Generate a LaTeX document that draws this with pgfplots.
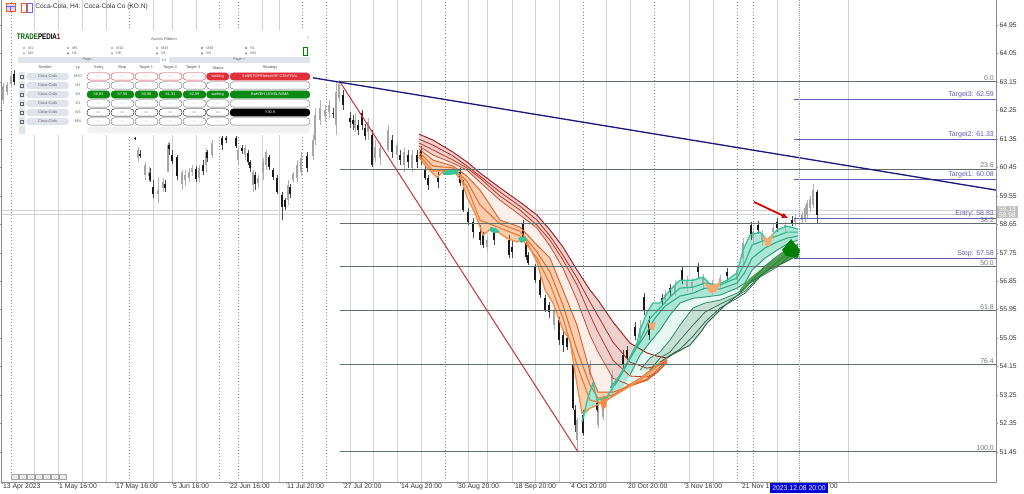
\documentclass[border=0pt]{standalone}
\usepackage{pgfplots}
\usepackage{pgfplotstable}
\usepackage{fontspec}
\setmainfont{Liberation Sans}
\pgfplotsset{compat=1.18}
\usetikzlibrary{arrows.meta}
\definecolor{lvl}{HTML}{5F6E66}
\definecolor{tgt}{HTML}{5C5CB8}
\definecolor{axg}{HTML}{8C8C8C}
\definecolor{tx}{HTML}{333333}
\definecolor{pbg}{HTML}{DFE3EC}
\definecolor{pred}{HTML}{E0303C}
\definecolor{pgreen}{HTML}{0A8A10}
\definecolor{trend}{HTML}{1C1C80}
\definecolor{redl}{HTML}{C8323C}
\definecolor{rA}{HTML}{9E1C1C}\definecolor{rB}{HTML}{B22A20}\definecolor{rC}{HTML}{C23A22}\definecolor{rD}{HTML}{D04C26}
\definecolor{rE}{HTML}{DC5E2B}\definecolor{rF}{HTML}{E66E30}\definecolor{rG}{HTML}{EF7C36}\definecolor{rH}{HTML}{F58A42}
\definecolor{gA}{HTML}{35C49A}\definecolor{gB}{HTML}{32B88E}\definecolor{gC}{HTML}{2FAA80}\definecolor{gD}{HTML}{2D9C72}
\definecolor{gE}{HTML}{2B8E64}\definecolor{gF}{HTML}{2A8058}\definecolor{gG}{HTML}{2B724E}\definecolor{gH}{HTML}{2D6444}
\pgfplotstableread{
x h l t b
3 63.11 62.45 63.02 62.58
7 63.15 62.74 63.05 62.83
11 63.46 62.96 63.34 63.08
138 61.09 60.62 61.00 60.74
145 60.62 60.05 60.52 60.21
149 60.46 59.98 60.30 60.17
158 60.14 59.32 59.73 59.60
163 60.11 59.67 59.98 59.79
168 61.25 60.30 61.15 60.30
182 60.36 59.73 60.30 59.92
185 60.36 59.86 60.21 60.05
189 60.43 59.98 60.30 60.11
192 60.52 60.17 60.43 60.30
199 60.52 59.98 60.43 60.11
206 61.06 60.30 60.93 60.52
212 61.31 60.74 61.22 60.84
238 61.12 60.49 61.00 60.68
245 61.15 60.68 61.06 60.84
253 60.36 59.67 60.30 59.89
258 60.21 59.79 60.11 59.95
263 60.74 60.05 60.62 60.30
266 61.00 60.36 60.93 60.52
288 60.05 59.26 59.89 59.41
293 60.30 59.95 60.24 60.05
297 60.68 59.98 60.52 60.11
301 60.93 60.17 60.74 60.30
313 61.47 60.68 61.31 60.81
315 62.32 61.15 62.10 61.31
320 62.58 61.79 62.32 61.94
325 62.42 61.88 62.26 62.07
329 62.58 62.01 62.42 62.20
336 63.15 61.47 62.83 61.79
339 63.21 62.51 63.08 62.64
355 62.17 61.56 61.94 61.69
368 62.01 61.31 61.88 61.56
375 61.31 60.62 61.09 60.74
380 61.22 60.52 61.06 60.74
388 61.79 60.93 61.63 61.00
397 61.31 60.68 61.15 60.84
404 61.06 60.30 60.93 60.52
412 61.00 60.30 60.84 60.43
487 58.28 57.77 58.15 57.93
554 56.06 55.30 55.93 55.46
577 52.52 51.47 52.46 51.82
590 54.35 53.72 54.19 53.88
598 52.93 52.20 52.77 52.30
603 53.09 52.46 52.93 52.55
612 54.04 53.25 53.88 53.40
640 55.62 54.92 55.37 55.05
665 56.57 56.12 56.41 56.25
675 56.88 56.38 56.73 56.50
687 57.01 56.50 56.88 56.63
692 56.95 56.50 56.82 56.63
703 57.07 56.57 56.95 56.73
712 56.88 56.41 56.73 56.57
720 57.04 56.63 56.95 56.79
737 57.36 56.57 57.20 56.88
743 58.21 57.36 58.05 57.58
753 58.53 58.02 58.40 58.21
762 58.47 57.96 58.31 58.15
773 58.66 58.21 58.53 58.40
785 58.72 58.40 58.62 58.53
795 58.97 58.59 58.85 58.72
802 59.03 58.66 58.94 58.78
805 59.26 58.72 59.16 58.85
807 59.41 58.85 59.32 58.94
810 59.54 59.03 59.45 59.16
813 59.92 59.16 59.73 59.26
}\grayc
\pgfplotstableread{
x h l t b
1 63.02 62.45 62.89 62.58
14 63.53 63.05 63.40 63.15
135 61.41 61.31 61.39 61.34
140 61.00 60.74 60.87 60.81
150 60.43 59.98 60.27 60.05
153 60.05 59.48 59.83 59.60
165 60.05 59.67 59.92 59.79
169 61.22 60.84 61.15 61.03
172 61.00 60.55 60.84 60.65
177 60.84 60.05 60.77 60.17
196 60.49 59.98 60.39 60.08
203 60.68 60.21 60.52 60.33
207 61.00 60.62 60.93 60.74
222 61.44 61.00 61.39 61.15
226 61.44 61.22 61.39 61.31
236 61.44 61.06 61.39 61.12
242 61.15 60.87 61.06 60.96
248 61.00 60.52 60.90 60.62
250 60.68 60.30 60.62 60.43
255 60.30 59.73 60.21 59.92
269 60.84 60.36 60.77 60.46
273 60.43 60.05 60.36 60.14
277 60.21 59.60 60.11 59.67
282 59.67 58.78 59.57 59.19
285 59.48 59.10 59.41 59.19
290 59.92 59.48 59.83 59.60
307 60.93 60.30 60.81 60.43
333 62.32 62.01 62.17 62.13
343 62.89 62.26 62.74 62.42
350 62.20 61.69 62.01 61.88
353 62.10 61.63 61.94 61.82
358 61.94 61.47 61.79 61.63
362 62.26 61.63 62.17 61.79
365 61.82 61.31 61.69 61.44
372 61.63 60.46 61.47 60.52
392 61.47 60.74 61.31 60.93
400 61.00 60.52 60.84 60.68
408 61.00 60.43 60.84 60.62
417 61.00 60.43 60.84 60.62
421 61.12 60.52 61.00 60.68
425 60.52 60.05 60.36 60.11
428 60.21 59.73 60.11 59.89
438 60.30 59.79 60.11 59.98
460 60.43 59.86 60.30 59.95
463 60.05 59.03 59.73 59.10
468 59.16 58.62 59.03 58.72
473 58.85 58.21 58.72 58.40
480 58.62 57.99 58.40 58.15
483 58.40 57.90 58.31 57.99
494 58.53 57.99 58.40 58.15
509 58.31 57.58 58.15 57.67
512 58.15 57.58 57.93 57.77
523 58.78 58.15 58.69 58.24
526 58.15 57.52 58.05 57.61
528 57.77 57.36 57.67 57.42
535 57.39 56.79 57.30 56.88
540 56.98 56.31 56.88 56.41
545 56.41 55.87 56.31 55.93
549 56.19 55.68 56.09 55.87
559 55.71 54.83 55.62 54.99
563 55.30 54.61 55.14 54.83
567 55.14 54.67 55.05 54.76
573 54.26 52.77 54.19 52.83
575 52.93 52.08 52.77 52.30
583 52.77 51.98 52.61 52.04
597 53.09 52.71 52.99 52.77
623 54.67 54.10 54.51 54.19
627 54.80 54.35 54.67 54.42
635 55.56 54.99 55.40 55.11
644 56.47 55.78 56.35 55.93
649 55.75 54.99 55.62 55.14
662 56.44 56.06 56.31 56.19
670 56.76 56.38 56.63 56.50
682 57.33 56.76 57.20 56.88
698 57.42 56.95 57.30 57.14
727 57.26 56.82 57.14 57.01
751 58.72 58.15 58.62 58.31
758 58.75 58.34 58.62 58.47
777 58.85 58.40 58.72 58.53
792 58.91 58.59 58.78 58.69
817 59.73 58.69 59.67 58.94
}\blackc
\newcommand{\fs}[1]{\fontsize{#1}{#1}\selectfont}
\newcommand{\cand}[5]{%
\addplot[draw=none,no markers,forget plot,error bars/.cd,y dir=minus,y explicit,error mark=none,
  error bar style={line width=#3,draw=#2,solid}] table[x=x,y=#4,y error minus expr=\thisrow{#4}-\thisrow{#5}] {#1};}
\begin{document}
\begin{tikzpicture}
\path[use as bounding box,fill=white] (0,0) rectangle (768pt,369.75pt);
\begin{axis}[
  at={(1.5pt,8.25pt)},anchor=south west,scale only axis,
  width=745.5pt,height=361.5pt,
  xmin=2,xmax=996,ymin=50.50,ymax=65.74,
  axis line style={draw=none},
  ytick={64.95,64.05,63.15,62.25,61.35,60.45,59.55,58.65,57.75,56.85,55.95,55.05,54.15,53.25,52.35,51.45},
  yticklabel pos=right,
  xtick={2,58,115,172,229,286,343,400,457,514,570,627,684,741,829},
  xticklabels={13 Apr 2023,1 May 16:00,17 May 16:00,5 Jun 16:00,22 Jun 16:00,11 Jul 20:00,27 Jul 20:00,14 Aug 20:00,30 Aug 20:00,18 Sep 20:00,4 Oct 20:00,20 Oct 20:00,3 Nov 16:00,21 Nov 1,00},
  xticklabel style={anchor=north west,font=\fs{5.15},text=tx,inner sep=0.6pt,yshift=1pt},
  yticklabel style={font=\fs{5.15},text=tx,inner sep=1pt},
  /pgf/number format/.cd,fixed,fixed zerofill,precision=2,assume math mode=true,
  /pgfplots/.cd,
  tick style={draw=axg,line width=0.3pt},
  major tick length=1.5pt,
  tick align=outside,
]
% vertical grid
\pgfplotsinvokeforeach{34,58,82,106,153,172,196,262,279,350,373,397,421,468,487,512,535,559,606,630,689,713,777,848}{
  \draw[color=black!18,line width=0.3pt] (axis cs:#1,50.5) -- (axis cs:#1,65.74);}
\pgfplotsinvokeforeach{11,129,219,238,302,326,445,583,654,737,753}{
  \draw[color=black!45,line width=0.35pt,dotted] (axis cs:#1,50.5) -- (axis cs:#1,65.74);}
% horizontal cursor lines
\addplot[forget plot,color=black!18,line width=0.3pt] coordinates {(2,59.10)(996,59.10)};
\addplot[forget plot,color=black!18,line width=0.3pt] coordinates {(2,58.97)(996,58.97)};
% ribbon fills: pale body
\addplot[forget plot,draw=none,fill=rE!10] coordinates {(419,61.50)(433,61.31)(453,60.93)(467,60.62)(480,60.27)(500,59.80)(520,59.35)(537,58.94)(550,58.47)(563,57.93)(577,57.20)(590,56.57)(598,56.25)(613,55.56)(630,54.89)(647,54.58)(657,54.48)(667,54.42)(653,54.04)(640,53.72)(620,53.34)(603,53.03)(590,52.83)(582,52.68)(578,53.40)(573,54.35)(570,54.99)(563,55.30)(553,56.16)(545,56.57)(537,57.45)(525,58.21)(517,58.09)(507,58.21)(492,58.53)(483,58.31)(475,59.00)(467,59.51)(460,60.21)(453,60.30)(443,60.30)(437,60.14)(427,60.43)(419,60.78)} -- cycle;
% slow red band
\addplot[forget plot,draw=none,fill=rB!22] coordinates {(419,61.50)(433,61.31)(453,60.93)(467,60.62)(480,60.27)(500,59.80)(520,59.35)(537,58.94)(550,58.47)(563,57.93)(577,57.20)(590,56.57)(598,56.25)(613,55.56)(630,54.89)(647,54.58)(657,54.48)(667,54.42)(667,54.29)(657,53.97)(647,53.72)(630,53.56)(613,53.78)(598,54.61)(590,55.14)(577,56.25)(563,57.26)(550,57.96)(537,58.53)(520,58.94)(500,59.41)(480,59.98)(467,60.36)(453,60.58)(433,60.84)(419,61.12)} -- cycle;
% fast orange band
\addplot[forget plot,draw=none,fill=rH!42] coordinates {(419,61.03)(433,60.68)(453,60.49)(467,60.17)(480,59.73)(500,58.78)(520,58.56)(537,57.99)(550,57.58)(563,56.57)(577,55.46)(590,53.97)(598,53.34)(613,53.34)(630,53.53)(647,53.72)(657,53.97)(667,54.29)(667,54.42)(653,54.04)(640,53.72)(620,53.34)(603,53.03)(590,52.83)(582,52.68)(578,53.40)(573,54.35)(570,54.99)(563,55.30)(553,56.16)(545,56.57)(537,57.45)(525,58.21)(517,58.09)(507,58.21)(492,58.53)(483,58.31)(475,59.00)(467,59.51)(460,60.21)(453,60.30)(443,60.30)(437,60.14)(427,60.43)(419,60.78)} -- cycle;
% green pale body
\addplot[forget plot,draw=none,fill=gA!12] coordinates {(582,52.40)(588,53.18)(593,53.63)(597,53.09)(607,53.18)(617,53.72)(627,54.26)(637,54.89)(640,55.30)(647,55.87)(653,56.16)(660,56.16)(670,56.57)(680,56.88)(693,56.88)(703,56.98)(713,56.66)(727,56.88)(737,57.11)(743,57.83)(750,58.31)(760,58.40)(767,58.15)(777,58.47)(787,58.59)(798,58.50)(798,57.67)(785,57.45)(770,57.23)(750,56.79)(740,56.47)(723,56.03)(707,55.52)(700,55.21)(690,54.83)(673,54.54)(667,54.42)(653,54.04)(640,53.72)(620,53.34)(603,53.03)(590,52.83)} -- cycle;
% fast teal band
\addplot[forget plot,draw=none,fill=gA!42] coordinates {(582,52.40)(588,53.18)(593,53.63)(597,53.09)(607,53.18)(617,53.72)(627,54.26)(637,54.89)(640,55.30)(647,55.87)(653,56.16)(660,56.16)(670,56.57)(680,56.88)(693,56.88)(703,56.98)(713,56.66)(727,56.88)(737,57.11)(743,57.83)(750,58.31)(760,58.40)(767,58.15)(777,58.47)(787,58.59)(798,58.50)(798,58.15)(787,58.02)(777,57.83)(765,57.58)(752,57.20)(745,56.79)(737,56.63)(720,56.41)(705,56.35)(693,56.31)(680,56.16)(670,55.78)(660,55.30)(650,54.92)(640,54.51)(630,53.88)(620,53.34)(603,53.03)(590,52.83)} -- cycle;
% slow dark band
\addplot[forget plot,draw=none,fill=gF!26] coordinates {(640,54.04)(650,54.42)(660,54.61)(670,54.99)(680,55.46)(693,56.00)(705,56.16)(720,56.25)(737,56.47)(745,56.63)(752,56.88)(765,57.33)(777,57.64)(787,57.86)(798,58.02)(798,57.67)(785,57.45)(770,57.23)(750,56.79)(740,56.47)(723,56.03)(707,55.52)(700,55.21)(690,54.83)(673,54.54)(667,54.42)(653,54.04)} -- cycle;
% candles
\cand{\grayc}{black!30}{0.35pt}{h}{l}
\cand{\grayc}{black!35}{1.6pt}{t}{b}
\cand{\blackc}{black!70}{0.35pt}{h}{l}
\cand{\blackc}{black!90}{1.6pt}{t}{b}
% red ribbon
\addplot[forget plot,color=rA,line width=0.7pt] coordinates {(419,61.50)(433,61.31)(453,60.93)(467,60.62)(480,60.27)(500,59.80)(520,59.35)(537,58.94)(550,58.47)(563,57.93)(577,57.20)(590,56.57)(598,56.25)(613,55.56)(630,54.89)(647,54.58)(657,54.48)(667,54.42)};
\addplot[forget plot,color=rB,line width=0.6pt] coordinates {(419,61.34)(433,61.15)(453,60.81)(467,60.49)(480,60.17)(500,59.67)(520,59.22)(537,58.78)(550,58.28)(563,57.67)(577,56.95)(590,56.19)(598,55.75)(613,54.92)(630,54.29)(647,54.10)(657,54.16)(667,54.35)};
\addplot[forget plot,color=rC,line width=0.6pt] coordinates {(419,61.22)(433,61.00)(453,60.68)(467,60.43)(480,60.11)(500,59.54)(520,59.10)(537,58.62)(550,58.15)(563,57.52)(577,56.73)(590,55.78)(598,55.24)(613,54.35)(630,53.85)(647,53.82)(657,53.97)(667,54.29)};
\addplot[forget plot,color=rD,line width=0.6pt] coordinates {(419,61.12)(433,60.84)(453,60.58)(467,60.36)(480,59.98)(500,59.41)(520,58.94)(537,58.53)(550,57.96)(563,57.26)(577,56.25)(590,55.14)(598,54.61)(613,53.78)(630,53.56)(647,53.72)(657,53.97)(667,54.29)};
\addplot[forget plot,color=rE,line width=0.7pt] coordinates {(419,61.03)(433,60.68)(453,60.49)(467,60.17)(480,59.73)(500,58.78)(520,58.56)(537,57.99)(550,57.58)(563,56.57)(577,55.46)(590,53.97)(598,53.34)(613,53.34)(630,53.53)(647,53.72)(657,53.97)(667,54.29)};
\addplot[forget plot,color=rF,line width=0.8pt] coordinates {(419,60.93)(433,60.49)(453,60.43)(467,60.01)(480,59.26)(500,58.66)(520,58.43)(537,57.77)(550,57.14)(563,56.09)(577,54.67)(590,53.56)(598,53.15)(613,53.25)(630,53.56)(647,53.75)(657,54.04)(667,54.35)};
\addplot[forget plot,color=rG,line width=0.9pt] coordinates {(419,60.84)(433,60.33)(453,60.36)(467,59.83)(480,58.78)(500,58.53)(520,58.28)(537,57.58)(550,56.76)(563,55.68)(577,54.19)(590,53.09)(603,52.99)(620,53.40)(640,53.78)(653,54.10)(667,54.42)};
\addplot[forget plot,color=rH,line width=1pt] coordinates {(419,60.78)(427,60.43)(437,60.14)(443,60.30)(453,60.30)(460,60.21)(467,59.51)(475,59.00)(483,58.31)(492,58.53)(507,58.21)(517,58.09)(525,58.21)(537,57.45)(545,56.57)(553,56.16)(563,55.30)(570,54.99)(573,54.35)(578,53.40)(582,52.68)(590,52.83)(603,53.03)(620,53.34)(640,53.72)(653,54.04)(667,54.42)};
% short teal and orange patches
\addplot[forget plot,draw=none,fill=gA] coordinates {(443,60.30)(450,60.39)(458,60.36)(458,60.24)(450,60.21)(443,60.21)} -- cycle;
\addplot[forget plot,draw=none,fill=gA] coordinates {(490,58.56)(496,58.53)(500,58.40)(495,58.37)(490,58.43)} -- cycle;
\addplot[forget plot,draw=none,fill=gA] coordinates {(518,58.21)(525,58.28)(527,58.15)(521,58.05)} -- cycle;
\addplot[forget plot,draw=none,fill=rH] coordinates {(600,53.18)(608,53.22)(606,52.87)(602,52.77)} -- cycle;
% green ribbon
\addplot[forget plot,color=gH,line width=0.7pt] coordinates {(667,54.42)(673,54.54)(690,54.83)(700,55.21)(707,55.52)(723,56.03)(740,56.47)(750,56.79)(770,57.23)(785,57.45)(798,57.67)};
\addplot[forget plot,color=gG,line width=0.6pt] coordinates {(660,54.29)(670,54.51)(680,54.70)(693,55.11)(705,55.56)(720,56.00)(737,56.31)(745,56.47)(760,56.98)(777,57.30)(787,57.58)(798,57.83)};
\addplot[forget plot,color=gF,line width=0.6pt] coordinates {(650,54.04)(660,54.42)(670,54.61)(680,54.99)(693,55.46)(705,55.87)(720,56.12)(737,56.38)(745,56.54)(752,56.76)(765,57.14)(777,57.45)(787,57.71)(798,57.90)};
\addplot[forget plot,color=gE,line width=0.6pt] coordinates {(640,54.04)(650,54.42)(660,54.61)(670,54.99)(680,55.46)(693,56.00)(705,56.16)(720,56.25)(737,56.47)(745,56.63)(752,56.88)(765,57.33)(777,57.64)(787,57.86)(798,58.02)};
\addplot[forget plot,color=gD,line width=0.7pt] coordinates {(630,53.88)(640,54.51)(650,54.92)(660,55.30)(670,55.78)(680,56.16)(693,56.31)(705,56.35)(720,56.41)(737,56.63)(745,56.79)(752,57.20)(765,57.58)(777,57.83)(787,58.02)(798,58.15)};
\addplot[forget plot,color=gC,line width=0.8pt] coordinates {(615,53.56)(625,54.10)(635,54.67)(645,55.14)(655,55.68)(665,56.06)(680,56.38)(693,56.47)(705,56.63)(720,56.60)(737,56.79)(745,57.14)(752,57.58)(765,57.90)(777,58.09)(787,58.21)(798,58.28)};
\addplot[forget plot,color=gB,line width=0.9pt] coordinates {(610,53.47)(620,53.88)(630,54.42)(640,54.99)(650,55.68)(660,56.00)(670,56.35)(680,56.63)(693,56.66)(705,56.79)(720,56.73)(737,56.95)(745,57.45)(752,57.99)(765,58.15)(777,58.28)(787,58.40)(798,58.40)};
\addplot[forget plot,color=gA,line width=1pt] coordinates {(582,52.40)(588,53.18)(593,53.63)(597,53.09)(607,53.18)(617,53.72)(627,54.26)(637,54.89)(640,55.30)(647,55.87)(653,56.16)(660,56.16)(670,56.57)(680,56.88)(693,56.88)(703,56.98)(713,56.66)(727,56.88)(737,57.11)(743,57.83)(750,58.31)(760,58.40)(767,58.15)(777,58.47)(787,58.59)(798,58.50)};
% thick green flare at the end
\addplot[forget plot,draw=none,fill=green!45!black!85!white,fill opacity=0.75] coordinates {(740,56.60)(750,56.95)(770,57.45)(785,57.80)(798,58.00)(798,57.67)(785,57.45)(770,57.23)(750,56.79)(740,56.47)} -- cycle;
% orange dips
\addplot[forget plot,draw=none,fill=rH!75] coordinates {(648,55.56)(652,55.50)(656,55.56)(654,55.30)(650,55.30)} -- cycle;
\addplot[forget plot,draw=none,fill=rH!75] coordinates {(704,56.82)(710,56.73)(716,56.76)(722,56.88)(716,56.50)(710,56.47)} -- cycle;
\addplot[forget plot,draw=none,fill=rH!75] coordinates {(762,58.28)(768,58.18)(774,58.40)(770,57.96)(766,57.96)} -- cycle;
% fibonacci levels
\pgfplotsinvokeforeach{63.15,60.39,58.68,57.30,55.92,54.21,51.45}{
  \addplot[forget plot,color=lvl,line width=0.75pt] coordinates {(340,#1)(996,#1)};}
% target lines
\pgfplotsinvokeforeach{62.59,61.33,60.08,58.83,57.58}{
  \addplot[forget plot,color=tgt,line width=0.5pt] coordinates {(794,#1)(996,#1)};}
% trend lines
\addplot[forget plot,color=redl,line width=0.75pt] coordinates {(340,63.15)(578,51.45)};
\addplot[forget plot,color=trend,line width=1pt] coordinates {(313,63.28)(996,59.73)};
% cursor
\addplot[forget plot,color=blue!40!black!40!white,line width=0.4pt,densely dotted] coordinates {(799,50.5)(799,65.74)};
% level labels
\node[anchor=south east,inner sep=0.7pt,text=black!55,font=\fs{5.2}] at (axis cs:995,63.15) {0.0};
\node[anchor=south east,inner sep=0.7pt,text=black!55,font=\fs{5.2}] at (axis cs:995,60.39) {23.6};
\node[anchor=south east,inner sep=0.7pt,text=black!55,font=\fs{5.2}] at (axis cs:995,58.68) {38.2};
\node[anchor=south east,inner sep=0.7pt,text=black!55,font=\fs{5.2}] at (axis cs:995,57.30) {50.0};
\node[anchor=south east,inner sep=0.7pt,text=black!55,font=\fs{5.2}] at (axis cs:995,55.92) {61.8};
\node[anchor=south east,inner sep=0.7pt,text=black!55,font=\fs{5.2}] at (axis cs:995,54.21) {76.4};
\node[anchor=south east,inner sep=0.7pt,text=black!55,font=\fs{5.2}] at (axis cs:995,51.45) {100.0};
\node[anchor=south east,inner sep=0.7pt,text=tgt,font=\fs{5.25}] at (axis cs:995,62.59) {Target3: 62.59};
\node[anchor=south east,inner sep=0.7pt,text=tgt,font=\fs{5.25}] at (axis cs:995,61.33) {Target2: 61.33};
\node[anchor=south east,inner sep=0.7pt,text=tgt,font=\fs{5.25}] at (axis cs:995,60.08) {Target1: 60.08};
\node[anchor=south east,inner sep=0.7pt,text=tgt,font=\fs{5.25}] at (axis cs:995,58.83) {Entry: 58.83};
\node[anchor=south east,inner sep=0.7pt,text=tgt,font=\fs{5.25}] at (axis cs:995,57.58) {Stop: 57.58};
\end{axis}
\begin{scope}[x=0.75pt,y=-0.75pt,yshift=369.75pt]
% frame
\draw[axg,line width=0.4pt] (1.5,0) -- (1.5,482) -- (996,482) -- (996,0);
% red and green arrows
\draw[color=red!85!black,line width=1.3pt,-{Latex[length=4.5pt,width=4.5pt]}] (754,202) -- (788,218);
\fill[green!50!black] (791,239) -- (800,250) -- (798,258) -- (786,256) -- (782,250) -- cycle;
% price boxes
\fill[black!25] (997,206) rectangle (1018,218);
\node[text=white,font=\fs{5},inner sep=0] at (1007.5,209) {59.13};
\node[text=white,font=\fs{5},inner sep=0] at (1007.5,215) {58.98};
% time highlight
\fill[blue!85!black] (770,483) rectangle (828,492.5);
\node[text=white,font=\fs{5.15},inner sep=0] at (799,487.7) {2023.12.08 20:00};
% toolbar icons
\draw[orange!70!red,line width=0.4pt,fill=blue!15] (6,3) rectangle (15,11);
\draw[blue!60,line width=0.4pt] (6,6) -- (15,6) (10.5,6) -- (10.5,11);
\draw[orange!70!red,line width=0.5pt] (21,3) rectangle (26,12);
\draw[blue!60,line width=0.5pt] (27,3) rectangle (32,12);
\node[anchor=west,inner sep=0,text=tx,font=\fs{4.95}] at (35,7.2) {Coca-Cola, H4:\ \ Coca-Cola Co (KO.N)};
% bottom buttons
\foreach \a in {11,19,27,35,43,51,59}{
  \draw[black!35,fill=black!8,line width=0.2pt] (\a+0.5,474) rectangle (\a+7.2,479);
}
% panel
\fill[white] (17,30) rectangle (313,135);
\node[anchor=west,inner sep=0,font=\fs{6.1}\bfseries] at (16.5,37) {\scalebox{0.76}[1]{\textcolor{green!40!black}{TRADE}\textcolor{black}{PEDIA}\textcolor{red!80!black}{1}}};
\node[inner sep=0,text=black!60,font=\fs{3}] at (164,39) {Awaris Ribbon};
\node[inner sep=0,text=black!40,font=\fs{3.5}] at (308,38) {×};
\foreach \xx/\t/\u/\fa/\fb in {24/M1/M2/white/white,68/M5/H1/white/black!70,112/M10/H8/white/white,157/M15/D1/white/black!70,202/M30/W1/black!70/black!70,246/H1/MN/black!70/black!70}{
  \draw[black!40,line width=0.2pt,fill=\fa] (\xx,48) circle (0.9);
  \draw[black!40,line width=0.2pt,fill=\fb] (\xx,53.5) circle (0.9);
  \node[anchor=west,inner sep=0,text=black!60,font=\fs{2.8}] at (\xx+4,48) {\t};
  \node[anchor=west,inner sep=0,text=black!60,font=\fs{2.8}] at (\xx+4,53.5) {\u};
}
\draw[green!50!black,line width=0.5pt] (303.5,47) rectangle (307,55.5);
\fill[pbg] (18,57) rectangle (160,63);
\fill[pbg] (169,57) rectangle (310,63);
\node[inner sep=0,text=black!60,font=\fs{2.8}] at (88,60) {Page -};
\node[inner sep=0,text=black!60,font=\fs{2.8}] at (164,60) {1/1};
\node[inner sep=0,text=black!60,font=\fs{2.8}] at (239,60) {Page +};
\foreach \xx/\t in {45/Symbol,78/TF,99/Entry,122/Stop,146/Target 1,170/Target 2,193/Target 3,218/Status,270/Strategy}{
  \node[inner sep=0,text=black!70,font=\fs{2.9}] at (\xx,68) {\t};
}
\foreach \yy/\tf in {76.5/M30,85.5/H1,94.5/H4,103.5/D1,112.5/W1,121.5/MN}{
  \fill[pbg] (19,\yy-4) rectangle (25,\yy+4);
  \draw[black!60,line width=0.2pt] (20.5,\yy-1.5) rectangle (23.5,\yy+1.5);
  \fill[pbg,rounded corners=2.6pt] (26,\yy-3.7) rectangle (69,\yy+3.7);
  \node[inner sep=0,text=black!60,font=\fs{3}] at (47.5,\yy) {Coca-Cola};
  \node[inner sep=0,text=black!60,font=\fs{2.9}] at (78,\yy) {\tf};
}
\fill[pbg] (19,126) rectangle (25,134);
\fill[black!5,rounded corners=2.6pt] (87,126.5) rectangle (310,133.5);
% row pills: x1 / x2 / centre / y / draw / fill / text colour / text
\foreach \a/\b/\c/\y/\d/\f/\tc/\t in {
 87/110/98.5/76.5/pred/white/black!50/---,111/134/122.5/76.5/pred/white/black!50/---,135/158/146.5/76.5/pred/white/black!50/---,159/182/170.5/76.5/pred/white/black!50/---,183/206/194.5/76.5/pred/white/black!50/---,206.5/229/217.7/76.5/pred/pred/white/waiting,230/310/270/76.5/pred/pred/white/Sell\slash STOP\slash Retest\slash HF CENTRAL,
 87/110/98.5/85.5/black!60/white/black!40/---,111/134/122.5/85.5/black!60/white/black!40/---,135/158/146.5/85.5/black!60/white/black!40/---,159/182/170.5/85.5/black!60/white/black!40/---,183/206/194.5/85.5/black!60/white/black!40/---,206.5/229/217.7/85.5/black!60/white/black!40/---,230/310/270/85.5/black!60/white/black!40/{},
 87/110/98.5/94.5/pgreen/pgreen/white/58.83,111/134/122.5/94.5/pgreen/pgreen/white/57.58,135/158/146.5/94.5/pgreen/pgreen/white/60.08,159/182/170.5/94.5/pgreen/pgreen/white/61.33,183/206/194.5/94.5/pgreen/pgreen/white/62.59,206.5/229/217.7/94.5/pgreen/pgreen/white/waiting,230/310/270/94.5/pgreen/pgreen/white/BoH\slash EH LEVEL\slash WMA,
 87/110/98.5/103.5/black!60/white/black!40/---,111/134/122.5/103.5/black!60/white/black!40/---,135/158/146.5/103.5/black!60/white/black!40/---,159/182/170.5/103.5/black!60/white/black!40/---,183/206/194.5/103.5/black!60/white/black!40/---,206.5/229/217.7/103.5/black!60/white/black!40/---,230/310/270/103.5/black!60/white/black!40/{},
 87/110/98.5/112.5/black/white/black/---,111/134/122.5/112.5/black/white/black/---,135/158/146.5/112.5/black/white/black/---,159/182/170.5/112.5/black/white/black/---,183/206/194.5/112.5/black/white/black/---,206.5/229/217.7/112.5/black/white/black/---,230/310/270/112.5/black/black/white/Y30.9,
 87/110/98.5/121.5/black!60/white/black!40/---,111/134/122.5/121.5/black!60/white/black!40/---,135/158/146.5/121.5/black!60/white/black!40/---,159/182/170.5/121.5/black!60/white/black!40/---,183/206/194.5/121.5/black!60/white/black!40/---,206.5/229/217.7/121.5/black!60/white/black!40/---,230/310/270/121.5/black!60/white/black!40/{}}{
  \draw[draw=\d,fill=\f,line width=0.3pt,rounded corners=2.6pt] (\a,\y-3.7) rectangle (\b,\y+3.7);
  \node[inner sep=0,text=\tc,font=\fs{2.9}] at (\c,\y) {\t};
}
\end{scope}
\end{tikzpicture}
\end{document}
